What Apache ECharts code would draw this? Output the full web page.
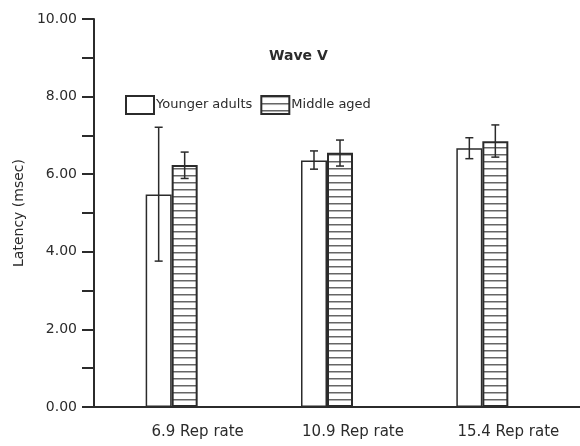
<!DOCTYPE html>
<html>
<head>
<meta charset="utf-8">
<script src="https://cdn.jsdelivr.net/npm/echarts@6/dist/echarts.min.js"></script>
<style>
  html, body { margin: 0; padding: 0; background: #fff; }
  #main { width: 580px; height: 446px; }
</style>
</head>
<body>
<div id="main"></div>
<script>
  // data
  var categories = ['6.9 Rep rate', '10.9 Rep rate', '15.4 Rep rate'];
  var youngerMean = [5.48, 6.35, 6.67];
  var youngerLow  = [3.76, 6.13, 6.40];
  var youngerHigh = [7.21, 6.60, 6.94];
  var middleMean  = [6.24, 6.55, 6.85];
  var middleLow   = [5.89, 6.21, 6.44];
  var middleHigh  = [6.57, 6.88, 7.27];
  var yTicks = [0, 2, 4, 6, 8, 10];

  var BAR_W = 26;
  var ink = '#2b2b2b';
  var font = 'DejaVu Sans';

  // horizontal stripe fill for the middle aged bars
  var stripe = document.createElement('canvas');
  stripe.width = 6; stripe.height = 7;
  var ctx = stripe.getContext('2d');
  ctx.fillStyle = '#fff';
  ctx.fillRect(0, 0, 6, 7);
  ctx.fillStyle = '#666';
  ctx.fillRect(0, 0, 6, 1.5);

  function errData(low, high) {
    return categories.map(function (c, i) { return [i, low[i], high[i]]; });
  }

  function errorBars(offset) {
    return function (params, api) {
      var lo = api.coord([api.value(0), api.value(1)]);
      var hi = api.coord([api.value(0), api.value(2)]);
      var x = lo[0] + offset;
      var cap = 4;
      var st = { stroke: ink, lineWidth: 1.5 };
      return {
        type: 'group',
        children: [
          { type: 'line', shape: { x1: x, y1: hi[1], x2: x, y2: lo[1] }, style: st },
          { type: 'line', shape: { x1: x - cap, y1: hi[1], x2: x + cap, y2: hi[1] }, style: st },
          { type: 'line', shape: { x1: x - cap, y1: lo[1], x2: x + cap, y2: lo[1] }, style: st }
        ]
      };
    };
  }

  var chart = echarts.init(document.getElementById('main'));
  var option = {
    animation: false,
    textStyle: { fontFamily: font, color: ink },
    title: {
      text: 'Wave V',
      left: 264, top: 44,
      textStyle: { fontSize: 14, fontWeight: 'bold', color: ink, fontFamily: font }
    },
    legend: {
      left: 120, top: 90,
      icon: 'rect',
      itemWidth: 28, itemHeight: 18, itemGap: 8,
      textStyle: { fontSize: 13, color: ink, fontFamily: font, padding: [0, 0, 0, -3] },
      data: ['Younger adults', 'Middle aged']
    },
    grid: [
      { left: 94, right: 20, top: 19, bottom: 39 },
      { left: 94, right: 0, top: 19, bottom: 39 }
    ],
    xAxis: [{
      type: 'category',
      gridIndex: 0,
      data: categories,
      axisLine: { show: false },
      axisTick: { show: false },
      axisLabel: {
        fontSize: 15, color: ink, fontFamily: font, margin: 18,
        padding: [0, 0, 0, 52]
      }
    }, {
      type: 'value',
      gridIndex: 1,
      min: 0, max: 1,
      axisLine: { show: true, lineStyle: { color: ink, width: 2 } },
      axisTick: { show: false },
      axisLabel: { show: false },
      splitLine: { show: false }
    }],
    yAxis: [{
      type: 'value',
      gridIndex: 0,
      min: yTicks[0], max: yTicks[yTicks.length - 1], interval: 2,
      name: 'Latency (msec)',
      nameLocation: 'middle',
      nameGap: 68,
      nameTextStyle: { fontSize: 14, color: ink, fontFamily: font },
      axisLine: { show: true, lineStyle: { color: ink, width: 2 } },
      axisTick: { show: true, inside: false, length: 12, lineStyle: { color: ink, width: 2 } },
      minorTick: { show: true, splitNumber: 2, length: 12, lineStyle: { color: ink, width: 2 } },
      axisLabel: {
        fontSize: 14, color: ink, fontFamily: font, margin: 17,
        formatter: function (v) { return v.toFixed(2); }
      },
      splitLine: { show: false }
    }, {
      type: 'value',
      gridIndex: 1,
      min: 0, max: 1,
      show: false
    }],
    series: [{
      name: 'Younger adults',
      type: 'bar',
      barWidth: BAR_W,
      barGap: '0%',
      data: youngerMean,
      itemStyle: { color: '#fff', borderColor: ink, borderWidth: 1.5 },
      z: 2
    }, {
      name: 'Middle aged',
      type: 'bar',
      barWidth: BAR_W,
      barGap: '0%',
      data: middleMean,
      itemStyle: {
        color: { image: stripe, repeat: 'repeat' },
        borderColor: ink, borderWidth: 2
      },
      z: 2
    }, {
      type: 'custom',
      renderItem: errorBars(-BAR_W / 2),
      encode: { x: 0, y: [1, 2] },
      data: errData(youngerLow, youngerHigh),
      z: 5
    }, {
      type: 'custom',
      renderItem: errorBars(BAR_W / 2),
      encode: { x: 0, y: [1, 2] },
      data: errData(middleLow, middleHigh),
      z: 5
    }]
  };
  chart.setOption(option);
</script>
</body>
</html>
